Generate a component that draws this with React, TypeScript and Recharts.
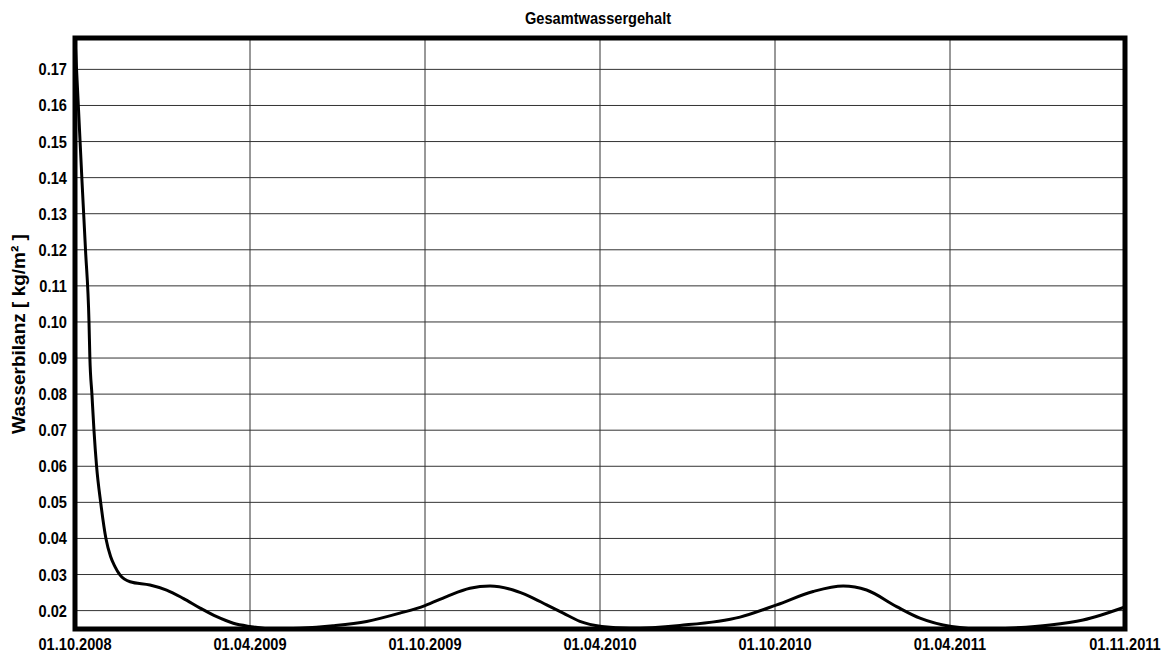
import { LineChart, Line, XAxis, YAxis, CartesianGrid, ReferenceArea } from 'recharts';

// months since 01.10.2008 (tick spacing is 6 units)
const months = [
  0, 0.12, 0.24, 0.36, 0.48, 0.51, 0.58, 0.65, 0.74, 0.88, 1.06, 1.22, 1.37, 1.54, 1.89, 2.57, 3.14,
  3.71, 4.29, 4.86, 5.43, 6.0, 6.79, 7.71, 8.85, 10.0, 11.14, 12.0, 12.74, 13.54, 14.23, 15.02, 15.6,
  16.17, 16.74, 17.31, 18.06, 19.03, 20.74, 22.8, 24.06, 25.31, 26.34, 27.14, 28.17, 28.97, 30.05,
  31.2, 32.2, 33.43, 34.56, 36,
];
const water = [
  0.1787, 0.159, 0.139, 0.12, 0.1, 0.09, 0.08, 0.07, 0.06, 0.05, 0.04, 0.035, 0.0322, 0.0299, 0.028,
  0.0271, 0.0257, 0.0234, 0.0207, 0.0183, 0.0165, 0.0156, 0.0149, 0.0151, 0.0158, 0.017, 0.0193,
  0.0214, 0.0239, 0.0262, 0.0268, 0.0257, 0.0239, 0.0216, 0.0193, 0.017, 0.0156, 0.0151, 0.0159,
  0.0182, 0.0216, 0.0253, 0.0268, 0.0257, 0.0211, 0.0179, 0.0156, 0.0149, 0.0152, 0.016, 0.0174,
  0.021,
];

const xTicks = [0, 6, 12, 18, 24, 30, 36];
const xLabels = ['01.10.2008', '01.04.2009', '01.10.2009', '01.04.2010', '01.10.2010', '01.04.2011', '01.11.2011'];
const yTicks = [0.02, 0.03, 0.04, 0.05, 0.06, 0.07, 0.08, 0.09, 0.1, 0.11, 0.12, 0.13, 0.14, 0.15, 0.16, 0.17];

const Y_MIN = 0.0149;
const Y_MAX = 0.1787;

const data = months.map((m, i) => ({ m, v: water[i] }));

// condensed bold look: Liberation Sans Bold squeezed horizontally
const FONT = '"Liberation Sans", Arial, sans-serif';
const SQUEEZE = 0.86;
const textStyle = { fontFamily: FONT, fontWeight: 700, fontSize: 17, fill: '#000' };

const NarrowText = ({ x, y, anchor, children, rotate = 0, squeeze = SQUEEZE, size = 17 }: any) => (
  <g transform={`translate(${x}, ${y}) rotate(${rotate}) scale(${squeeze}, 1)`}>
    <text x={0} y={0} textAnchor={anchor} style={{ ...textStyle, fontSize: size }}>
      {children}
    </text>
  </g>
);

const XTick = ({ x, y, payload }: any) => (
  <NarrowText x={x} y={y + 13} anchor="middle">
    {xLabels[xTicks.indexOf(payload.value)]}
  </NarrowText>
);

const YTick = ({ x, y, payload }: any) => (
  <NarrowText x={x} y={y + 6} anchor="end">
    {Number(payload.value).toFixed(2)}
  </NarrowText>
);

const YLabel = (props: any) => {
  const { viewBox } = props;
  const cx = 17;
  const cy = viewBox.y + viewBox.height / 2 + 0.5;
  return (
    <NarrowText x={cx} y={cy} anchor="middle" rotate={-90} squeeze={1} size={19}>
      Wasserbilanz [ kg/m² ]
    </NarrowText>
  );
};

export default function App() {
  return (
    <div style={{ position: 'relative', width: 1154, height: 644, background: '#fff' }}>
      <svg width={1154} height={30} style={{ position: 'absolute', left: 0, top: 0 }}>
        <NarrowText x={590} y={16} anchor="middle">
          Gesamtwassergehalt
        </NarrowText>
      </svg>
      <LineChart width={1154} height={644} data={data} margin={{ top: 30, right: 37, bottom: 0, left: 7 }}>
        <CartesianGrid stroke="#333" strokeWidth={1} horizontalValues={yTicks} verticalValues={xTicks} />
        <XAxis
          dataKey="m"
          type="number"
          domain={[0, 36]}
          ticks={xTicks}
          axisLine={false}
          tickLine={false}
          height={23}
          tick={<XTick />}
          interval={0}
        />
        <YAxis
          type="number"
          domain={[Y_MIN, Y_MAX]}
          allowDataOverflow
          ticks={yTicks}
          axisLine={false}
          tickLine={false}
          width={60}
          tick={<YTick />}
          interval={0}
          label={<YLabel />}
        />
        <Line
          type="monotone"
          dataKey="v"
          stroke="#000"
          strokeWidth={3}
          dot={false}
          isAnimationActive={false}
        />
        <ReferenceArea x1={0} x2={36} y1={Y_MIN} y2={Y_MAX} fill="none" stroke="#000" strokeWidth={5} ifOverflow="visible" />
      </LineChart>
    </div>
  );
}
